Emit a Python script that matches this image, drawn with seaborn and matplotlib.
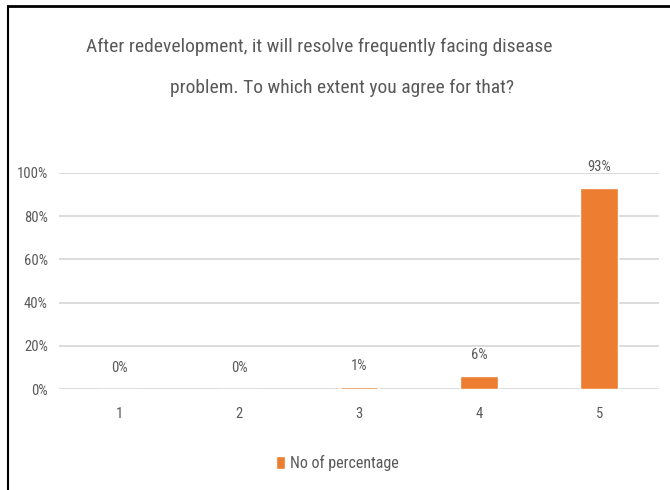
import matplotlib.pyplot as plt
import matplotlib.lines as mlines
from matplotlib import font_manager
import pandas as pd
import seaborn as sns

sns.set_theme(style="white")

# pick a narrow font if one is installed, else Lato
installed = {f.name for f in font_manager.fontManager.ttflist}
font_name = 'Lato'
for cand in ['Liberation Sans Narrow', 'Roboto Condensed', 'Open Sans Condensed']:
    if cand in installed:
        font_name = cand
        break
plt.rcParams['font.family'] = [font_name, 'DejaVu Sans']

# Data
categories = ['1', '2', '3', '4', '5']
values = [0.0, 0.0, 0.01, 0.06, 0.93]
labels = ['0%', '0%', '1%', '6%', '93%']
series_name = 'No of percentage'
title_lines = ['After redevelopment, it will resolve frequently facing disease',
               'problem. To which extent you agree for that?']

df = pd.DataFrame({'Scale': categories, 'Value': values})

bar_color = '#ED7D31'
text_color = '#595959'
grid_color = '#D9D9D9'

fig = plt.figure(figsize=(6.7, 4.9), dpi=100)
ax = fig.add_axes([0.088, 0.206, 0.896, 0.441])

sns.barplot(data=df, x='Scale', y='Value', color=bar_color, width=0.32,
            saturation=1, ax=ax, label=series_name, zorder=3)

ax.set_ylim(0, 1.0)
ax.set_xlim(-0.5, 4.5)
ax.set_yticks([0, 0.2, 0.4, 0.6, 0.8, 1.0])
ax.set_yticklabels(['0%', '20%', '40%', '60%', '80%', '100%'])
ax.yaxis.grid(True, color=grid_color, linewidth=1.3, zorder=0)
ax.set_axisbelow(True)
for s in ax.spines.values():
    s.set_visible(False)
ax.tick_params(axis='both', colors=text_color, labelsize=10.5, length=0)
ax.tick_params(axis='x', pad=13)
ax.tick_params(axis='y', pad=8)
ax.set_xlabel('')
ax.set_ylabel('')

for i, (v, lab) in enumerate(zip(values, labels)):
    ax.annotate(lab, (i, v), xytext=(0, 15), textcoords='offset points',
                ha='center', va='center', color=text_color, fontsize=10.5)

fig.text(0.477, 0.904, title_lines[0], ha='center', va='center', color=text_color, fontsize=14)
fig.text(0.510, 0.820, title_lines[1], ha='center', va='center', color=text_color, fontsize=14)

ax.legend(loc='center', bbox_to_anchor=(0.504, 0.055), bbox_transform=fig.transFigure,
          frameon=False, handlelength=0.55, handleheight=0.9, handletextpad=0.35,
          fontsize=11.5, labelcolor=text_color)

# black frame lines at top and left of the image
fig.add_artist(mlines.Line2D([0.012, 1.0], [0.988, 0.988], color='black', linewidth=2,
                             transform=fig.transFigure))
fig.add_artist(mlines.Line2D([0.012, 0.012], [0.0, 0.988], color='black', linewidth=1.5,
                             transform=fig.transFigure))

plt.savefig('out.png', dpi=100)
